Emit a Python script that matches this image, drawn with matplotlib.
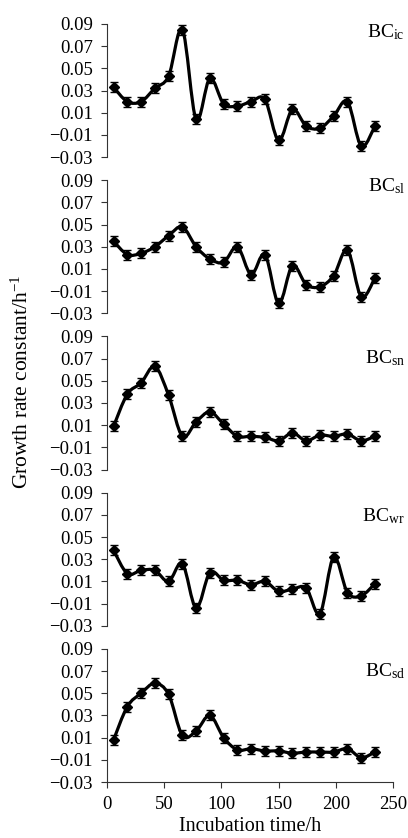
import numpy as np
import matplotlib
matplotlib.use('Agg')
import matplotlib.pyplot as plt
from matplotlib.path import Path
from matplotlib.patches import PathPatch
from matplotlib.ticker import FuncFormatter

plt.rcParams['font.family'] = ['Liberation Serif', 'DejaVu Serif']
plt.rcParams['mathtext.fontset'] = 'custom'
plt.rcParams['mathtext.rm'] = 'Liberation Serif'
plt.rcParams['mathtext.it'] = 'Liberation Serif:italic'

###############################################################################
# data

hours = [6, 18, 30, 42, 54, 66, 78, 90, 102, 114,
         126, 138, 150, 162, 174, 186, 198, 210, 222, 234]

bc_ic = [0.033, 0.020, 0.020, 0.032, 0.043, 0.085, 0.004, 0.041, 0.018, 0.016,
         0.020, 0.022, -0.015, 0.013, -0.002, -0.004, 0.007, 0.020, -0.020, -0.002]
bc_sl = [0.035, 0.023, 0.024, 0.030, 0.040, 0.048, 0.030, 0.019, 0.016, 0.030,
         0.005, 0.023, -0.021, 0.013, -0.004, -0.006, 0.004, 0.027, -0.015, 0.002]
bc_sn = [0.009, 0.038, 0.048, 0.063, 0.037, 0.000, 0.013, 0.022, 0.011, 0.000,
         0.000, -0.001, -0.004, 0.003, -0.004, 0.001, 0.000, 0.002, -0.004, 0.000]
bc_wr = [0.038, 0.017, 0.020, 0.020, 0.010, 0.026, -0.014, 0.018, 0.011, 0.011,
         0.007, 0.010, 0.001, 0.003, 0.004, -0.019, 0.032, 0.000, -0.003, 0.008]
bc_sd = [0.008, 0.038, 0.050, 0.059, 0.049, 0.012, 0.016, 0.030, 0.010, -0.001,
         0.000, -0.002, -0.002, -0.004, -0.003, -0.003, -0.003, 0.000, -0.008, -0.003]

series = [bc_ic, bc_sl, bc_sn, bc_wr, bc_sd]
labels = [r'BC$_{\rm ic}$', r'BC$_{\rm sl}$', r'BC$_{\rm sn}$',
          r'BC$_{\rm wr}$', r'BC$_{\rm sd}$']
yerr = 0.0045
yticks = [-0.03, -0.01, 0.01, 0.03, 0.05, 0.07, 0.09]

# where the panel name sits (axes fraction)
label_y = [1.01, 1.03, 0.91, 0.90, 0.91]


def smooth_path(x, y):
    # excel-style smoothed line: cubic bezier through every point
    pts = np.column_stack([x, y]).astype(float)
    padded = np.vstack([pts[0], pts, pts[-1]])
    verts = [pts[0]]
    codes = [Path.MOVETO]
    for i in range(len(pts) - 1):
        p0, p1, p2, p3 = padded[i], padded[i + 1], padded[i + 2], padded[i + 3]
        verts += [p1 + (p2 - p0) / 6, p2 - (p3 - p1) / 6, p2]
        codes += [Path.CURVE4] * 3
    return Path(verts, codes)


fig, axes = plt.subplots(5, 1, figsize=(4.08, 8.38), dpi=100, sharex=True)
fig.subplots_adjust(left=0.2615, right=0.964, top=0.9714, bottom=0.0668, hspace=0.173)

minus_fmt = FuncFormatter(lambda v, pos: f'{v:.2f}'.replace('-', '\u2212'))

for i, ax in enumerate(axes):
    vals = series[i]
    ax.add_patch(PathPatch(smooth_path(hours, vals), facecolor='none',
                           edgecolor='black', lw=2.3, zorder=2))
    ax.errorbar(hours, vals, yerr=yerr, fmt='D', color='black', ms=5,
                elinewidth=1, capsize=3, capthick=1, zorder=3)

    ax.set_xlim(0, 250)
    ax.set_ylim(-0.03, 0.09)
    ax.set_yticks(yticks)
    ax.yaxis.set_major_formatter(minus_fmt)

    for side in ['top', 'right', 'bottom']:
        ax.spines[side].set_visible(False)
    ax.spines['left'].set_color('#333333')
    ax.spines['left'].set_linewidth(0.8)
    ax.tick_params(axis='y', direction='out', length=4, width=0.8,
                   color='#333333', labelsize=13.5, pad=6)

    ax.text(1.04, label_y[i], labels[i], transform=ax.transAxes,
            ha='right', va='top', fontsize=14)

    if i < len(axes) - 1:
        ax.tick_params(axis='x', bottom=False, labelbottom=False)

ax = axes[-1]
ax.spines['bottom'].set_visible(True)
ax.spines['bottom'].set_color('#333333')
ax.spines['bottom'].set_linewidth(0.8)
ax.set_xticks([0, 50, 100, 150, 200, 250])
ax.tick_params(axis='x', direction='out', length=4, width=0.8,
               color='#333333', labelsize=13.5, pad=6)
ax.set_xlabel('Incubation time/h', fontsize=14.5, labelpad=3)

fig.text(0.054, 0.544, r'Growth rate constant/h$^{\mathregular{-1}}$',
         rotation=90, ha='center', va='center', fontsize=15.5)

fig.savefig('out.png', dpi=100)
